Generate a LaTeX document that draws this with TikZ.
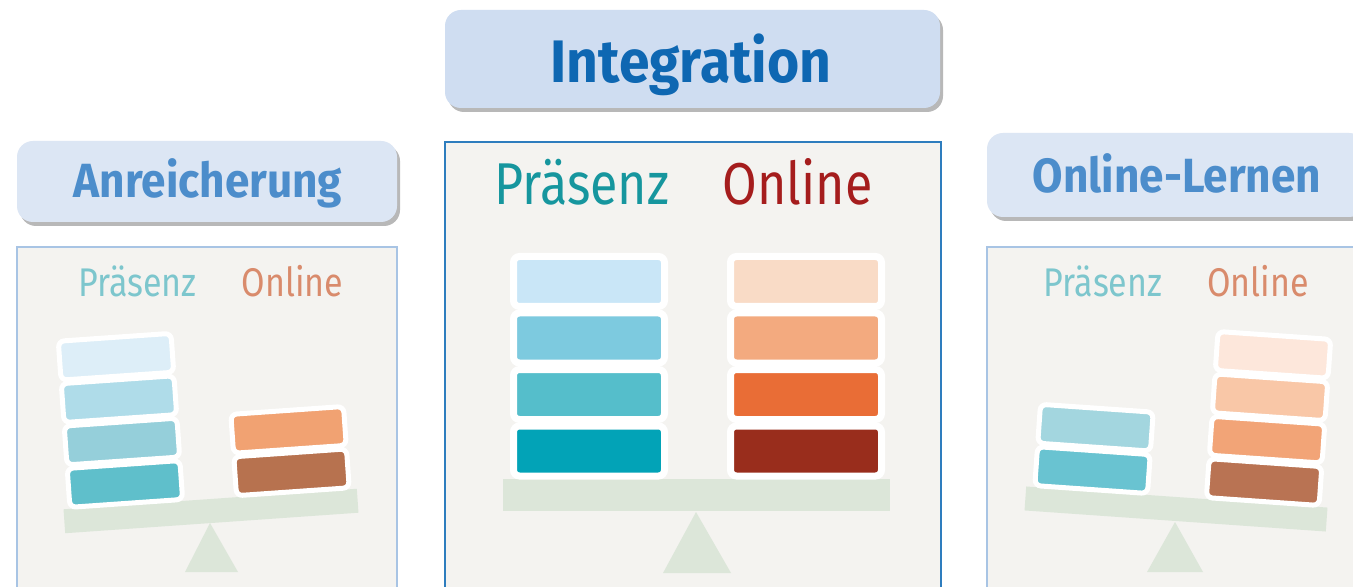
\documentclass[tikz,border=0pt]{standalone}
\usepackage{fontspec}
\setmainfont{Fira Sans}
\newfontfamily\titlefont[FakeStretch=0.92]{Fira Sans}
\newfontfamily\labelfont[FakeStretch=0.85]{Fira Sans}
\usetikzlibrary{shadows}
\definecolor{panelfill}{HTML}{F4F3F0}
\definecolor{sideborder}{HTML}{A8C4E4}
\definecolor{midborder}{HTML}{2E7DBE}
\definecolor{sidetitlefill}{HTML}{DCE6F4}
\definecolor{midtitlefill}{HTML}{CFDDF1}
\definecolor{sidetitletext}{HTML}{4C8DCB}
\definecolor{midtitletext}{HTML}{0E67B2}
\definecolor{sidepraes}{HTML}{7DC6CD}
\definecolor{sideonline}{HTML}{D98B6C}
\definecolor{midpraes}{HTML}{16969E}
\definecolor{midonline}{HTML}{A51D1D}
\definecolor{beam}{HTML}{DCE6D9}
\definecolor{aA}{HTML}{DDEEF8}
\definecolor{aB}{HTML}{AFDCE9}
\definecolor{aC}{HTML}{95CFDA}
\definecolor{aD}{HTML}{5FBFCB}
\definecolor{aE}{HTML}{F1A272}
\definecolor{aF}{HTML}{B7724F}
\definecolor{mA}{HTML}{C9E6F7}
\definecolor{mB}{HTML}{7DCADF}
\definecolor{mC}{HTML}{55BECB}
\definecolor{mD}{HTML}{02A3B7}
\definecolor{mE}{HTML}{F9DBC6}
\definecolor{mF}{HTML}{F3AA7F}
\definecolor{mG}{HTML}{E96D36}
\definecolor{mH}{HTML}{992D1C}
\definecolor{oA}{HTML}{A3D6DF}
\definecolor{oB}{HTML}{69C3D1}
\definecolor{oC}{HTML}{FDE7DB}
\definecolor{oD}{HTML}{F9C7A7}
\definecolor{oE}{HTML}{F2A477}
\definecolor{oF}{HTML}{B97353}
\tikzset{
  titlebox/.style={rounded corners=8pt, inner sep=0pt,
    drop shadow={shadow xshift=1.5pt, shadow yshift=-2pt, fill=black!55, opacity=0.5}},
  sidetitle/.style={titlebox, fill=sidetitlefill,
    minimum width=190pt, minimum height=40.5pt},
  midtitle/.style={titlebox, fill=midtitlefill,
    minimum width=247.5pt, minimum height=49pt},
  sidetitletxt/.style={anchor=base, inner sep=0pt, text=sidetitletext,
    font=\titlefont\bfseries\fontsize{24}{28}\selectfont},
  midtitletxt/.style={anchor=base, inner sep=0pt, text=midtitletext,
    font=\titlefont\bfseries\fontsize{30}{34}\selectfont},
  sidepanel/.style={fill=panelfill, draw=sideborder, line width=0.8pt},
  midpanel/.style={fill=panelfill, draw=midborder, line width=1pt},
  sidelabel/.style={anchor=base, inner sep=0pt, font=\labelfont\fontsize{20}{22}\selectfont},
  midlabel/.style={anchor=base, inner sep=0pt, font=\labelfont\fontsize{29.5}{32}\selectfont},
  sideblock/.style={fill=#1, draw=white, line width=2.5pt, rounded corners=3pt,
    minimum width=56.5pt, minimum height=19.5pt, inner sep=0pt, transform shape},
  midblock/.style={fill=#1, draw=white, line width=3.5pt, rounded corners=3pt,
    minimum width=75.5pt, minimum height=25pt, inner sep=0pt},
}
\begin{document}
\begin{tikzpicture}[x=0.5pt,y=-0.5pt]
\useasboundingbox (0,0) rectangle (1353,587);
\clip (0,0) rectangle (1353,587);
\fill[white] (0,0) rectangle (1353,587);

% ---------- left panel: Anreicherung ----------
\draw[sidepanel] (17,247) rectangle (397,620);
\node[sidetitle] (tl) at (207,181.5) {};
\node[sidetitletxt] (tltext) at (208,198) {Anreicherung};
\node[sidelabel, text=sidepraes] (lp) at (137.5,297) {Präsenz};
\node[sidelabel, text=sideonline] (lo) at (292.5,297) {Online};
\fill[beam] (210,523) -- (238,572) -- (185,572) -- cycle;
\begin{scope}[shift={(211,511)}, rotate=4]
  \fill[beam] (-147,-12) rectangle (147,12);
  \node[sideblock=aD] (l1) at (-84,-33) {};
  \node[sideblock=aC] (l2) at (-84,-75.5) {};
  \node[sideblock=aB] (l3) at (-84,-118) {};
  \node[sideblock=aA] (l4) at (-84,-160.5) {};
  \node[sideblock=aF] (l5) at (83,-33) {};
  \node[sideblock=aE] (l6) at (83,-75.5) {};
\end{scope}

% ---------- middle panel: Integration ----------
\draw[midpanel] (445,142) rectangle (941,620);
\node[midtitle] (tm) at (692.5,59) {};
\node[midtitletxt] (tmtext) at (691,83) {Integration};
\node[midlabel, text=midpraes] (mp) at (582,205) {Präsenz};
\node[midlabel, text=midonline] (mo) at (797.5,205) {Online};
\fill[beam] (696,512) -- (731,573) -- (663,573) -- cycle;
\fill[beam] (503,479) rectangle (890,511);
\node[midblock=mD] (m1) at (589,451) {};
\node[midblock=mC] (m2) at (589,394.5) {};
\node[midblock=mB] (m3) at (589,338) {};
\node[midblock=mA] (m4) at (589,281.5) {};
\node[midblock=mH] (m5) at (806,451) {};
\node[midblock=mG] (m6) at (806,394.5) {};
\node[midblock=mF] (m7) at (806,338) {};
\node[midblock=mE] (m8) at (806,281.5) {};

% ---------- right panel: Online-Lernen ----------
\draw[sidepanel] (987,247) rectangle (1370,620);
\node[sidetitle, minimum width=189pt, minimum height=42pt] (tr) at (1176,175) {};
\node[sidetitletxt] (trtext) at (1177,193) {Online-Lernen};
\node[sidelabel, text=sidepraes] (rp) at (1103,297) {Präsenz};
\node[sidelabel, text=sideonline] (ro) at (1258,297) {Online};
\fill[beam] (1175,522) -- (1203,572) -- (1147,572) -- cycle;
\begin{scope}[shift={(1176,509)}, rotate=-4]
  \fill[beam] (-151,-12) rectangle (151,12);
  \node[sideblock=oB] (r1) at (-86,-33) {};
  \node[sideblock=oA] (r2) at (-86,-75.5) {};
  \node[sideblock=oF] (r3) at (86,-33) {};
  \node[sideblock=oE] (r4) at (86,-75.5) {};
  \node[sideblock=oD] (r5) at (86,-118) {};
  \node[sideblock=oC] (r6) at (86,-160.5) {};
\end{scope}
\end{tikzpicture}
\end{document}
